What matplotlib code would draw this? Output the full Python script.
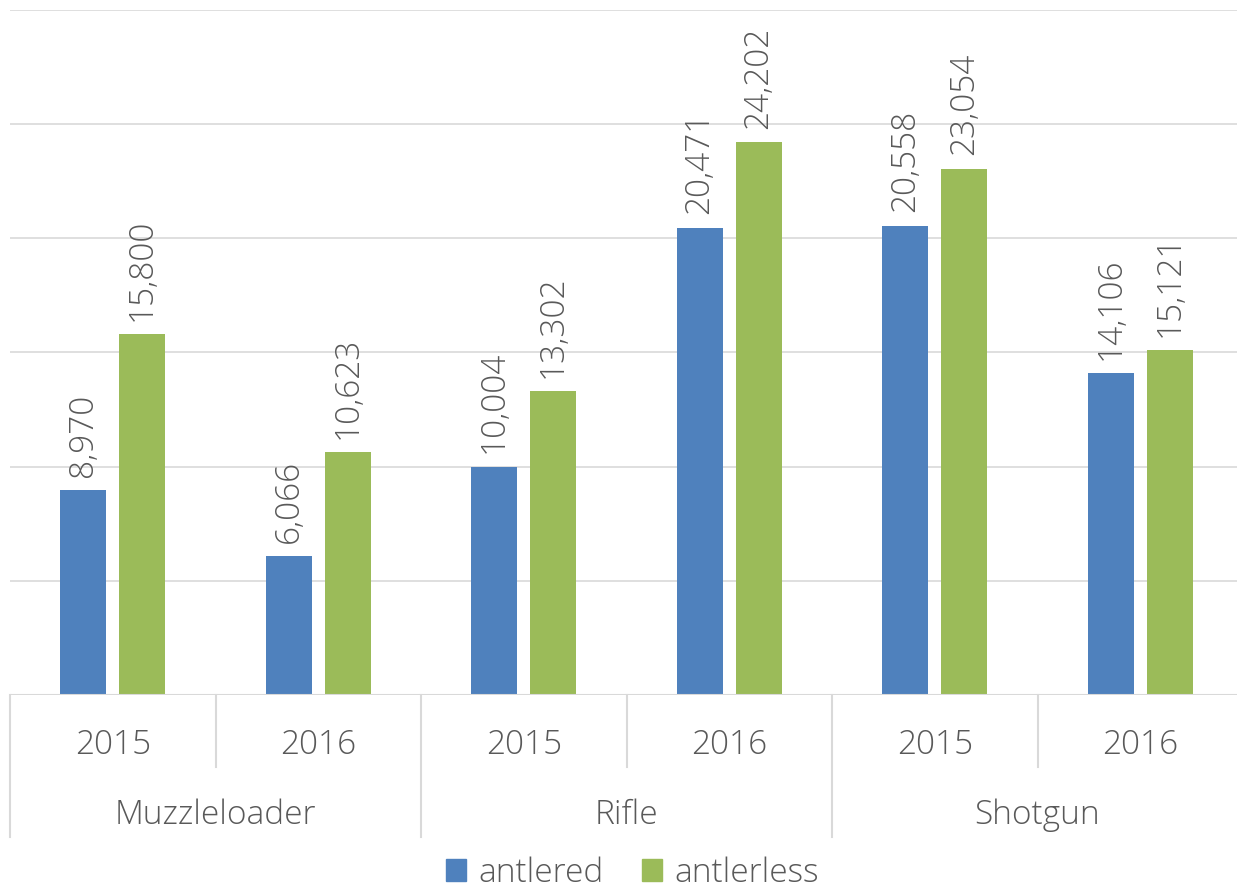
import numpy as np
import matplotlib
matplotlib.use("Agg")
import matplotlib.pyplot as plt
from matplotlib.patches import Patch

plt.rcParams['font.family'] = ['Open Sans', 'DejaVu Sans']
plt.rcParams['font.weight'] = 'light'

groups = ["Muzzleloader", "Rifle", "Shotgun"]
years = ["2015", "2016", "2015", "2016", "2015", "2016"]
antlered = [8970, 6066, 10004, 20471, 20558, 14106]
antlerless = [15800, 10623, 13302, 24202, 23054, 15121]

blue = "#4F81BD"
green = "#9BBB59"
txt = "#595959"
grid = "#D9D9D9"

fig = plt.figure(figsize=(12.37, 8.92), dpi=100)
# axes runs a little past the right edge, like the cropped original
ax = fig.add_axes([10/1237, 197/892, 1233/1237, 685/892])

x = np.arange(len(years))
w = 0.224
off = 0.144
b1 = ax.bar(x - off, antlered, w, color=blue, label="antlered")
b2 = ax.bar(x + off, antlerless, w, color=green, label="antlerless")

for bars in (b1, b2):
    for r in bars:
        ax.annotate(f"{int(r.get_height()):,}", (r.get_x() + r.get_width()/2, r.get_height()),
                    xytext=(0, 9.5), textcoords="offset points", rotation=90,
                    ha="center", va="bottom", fontsize=24, color=txt)

ax.set_xlim(-0.5, len(years) - 0.5)
ax.set_ylim(0, 30000)
ax.set_yticks(np.arange(0, 30001, 5000))
ax.yaxis.grid(True, color=grid, linewidth=1.2)
ax.set_axisbelow(True)
ax.tick_params(left=False, labelleft=False, bottom=False, labelbottom=False)
for s in ax.spines.values():
    s.set_visible(False)
ax.axhline(0, color=grid, linewidth=1.5)

tr = ax.get_xaxis_transform()
for i, yr in enumerate(years):
    ax.text(i, -0.073, yr, transform=tr, ha="center", va="center", fontsize=24, color=txt)
for i in range(len(years) + 1):
    xe = i - 0.5
    depth = -0.207 if i % 2 == 0 else -0.105
    ax.plot([xe, xe], [0, depth], transform=tr, color=grid, linewidth=1.5, clip_on=False)
for g, name in enumerate(groups):
    ax.text(2*g + 0.5, -0.175, name, transform=tr, ha="center", va="center", fontsize=24, color=txt)

handles = [Patch(color=blue, label="antlered"), Patch(color=green, label="antlerless")]
fig.legend(handles=handles, loc="center", bbox_to_anchor=(0.511, 19/892), ncol=2, frameon=False,
           fontsize=24, handlelength=0.62, handleheight=0.62, handletextpad=0.35, columnspacing=1.15,
           labelcolor=txt)

fig.savefig("out.png", dpi=100)
